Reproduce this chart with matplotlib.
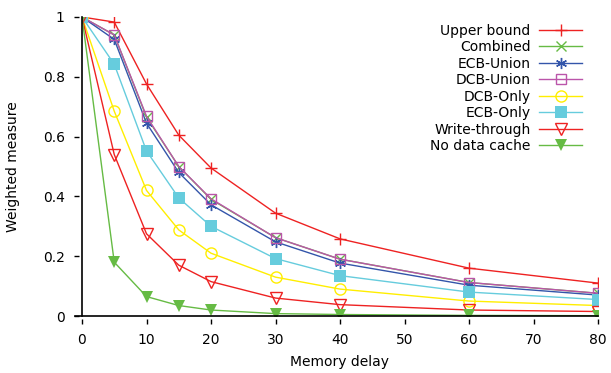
import matplotlib
matplotlib.use("Agg")
import matplotlib.pyplot as plt

delay = [0, 5, 10, 15, 20, 30, 40, 60, 80]

upper_bound = [1, 0.983, 0.776, 0.605, 0.495, 0.344, 0.258, 0.160, 0.110]
combined = [1, 0.940, 0.665, 0.500, 0.390, 0.262, 0.190, 0.112, 0.076]
ecb_union = [1, 0.925, 0.645, 0.480, 0.372, 0.248, 0.177, 0.103, 0.070]
dcb_union = [1, 0.940, 0.668, 0.500, 0.392, 0.262, 0.190, 0.112, 0.076]
dcb_only = [1, 0.685, 0.420, 0.288, 0.210, 0.130, 0.090, 0.050, 0.035]
ecb_only = [1, 0.842, 0.552, 0.395, 0.300, 0.192, 0.135, 0.080, 0.055]
write_through = [1, 0.540, 0.275, 0.170, 0.115, 0.060, 0.038, 0.020, 0.015]
no_cache = [1, 0.180, 0.065, 0.035, 0.020, 0.008, 0.005, 0.002, 0.001]

series = [
    ("Upper bound", upper_bound, "#ee2222", dict(marker="+", markersize=8, mew=1.0)),
    ("Combined", combined, "#66bb44", dict(marker="x", markersize=6.5, mew=1.0)),
    ("ECB-Union", ecb_union, "#3355aa", dict(marker=(6, 2, 0), markersize=8, mew=1.0)),
    ("DCB-Union", dcb_union, "#bb55aa", dict(marker="s", markersize=7.5, mfc="none", mew=1.0)),
    ("DCB-Only", dcb_only, "#ffee00", dict(marker="o", markersize=8, mfc="none", mew=1.0)),
    ("ECB-Only", ecb_only, "#66ccdd", dict(marker="s", markersize=8, mew=0)),
    ("Write-through", write_through, "#ee2222", dict(marker="v", markersize=8, mfc="none", mew=1.0)),
    ("No data cache", no_cache, "#66bb44", dict(marker="v", markersize=8.5, mew=0)),
]

fig = plt.figure(figsize=(6.11, 3.73), dpi=100)
ax = fig.add_axes([82 / 611, 57 / 373, 516 / 611, 299 / 373])

for label, vals, color, style in series:
    ax.plot(delay, vals, color=color, lw=1.0, label=label, **style)

ax.set_xlim(0, 80)
ax.set_ylim(0, 1)
ax.set_xticks(range(0, 81, 10))
ax.set_yticks([0, 0.2, 0.4, 0.6, 0.8, 1])
ax.set_yticklabels(["0", "0.2", "0.4", "0.6", "0.8", "1"])

# ticks sit a little away from the axis lines
for s in ["top", "right"]:
    ax.spines[s].set_visible(False)
for s in ["left", "bottom"]:
    ax.spines[s].set_position(("outward", 2))
    ax.spines[s].set_visible(False)
ax.plot([-0.0136, 1], [0, 0], transform=ax.transAxes, color="black", lw=1.2, clip_on=False)
ax.plot([0, 0], [0, 1], transform=ax.transAxes, color="black", lw=1.2, clip_on=False)

ax.tick_params(direction="out", length=3.5, width=1.0, pad=7, labelsize=10)
ax.set_xlabel("Memory delay", fontsize=10)
ax.set_ylabel("Weighted measure", fontsize=10)
ax.xaxis.set_label_coords(0.5, -0.130)
ax.yaxis.set_label_coords(-0.120, 0.5)

ax.legend(loc="upper right", frameon=False, markerfirst=False, fontsize=10,
          handlelength=3.1, handletextpad=0.6, labelspacing=0.18,
          borderaxespad=0.75, bbox_to_anchor=(1.0, 1.031))

fig.savefig("out.png", dpi=100)
